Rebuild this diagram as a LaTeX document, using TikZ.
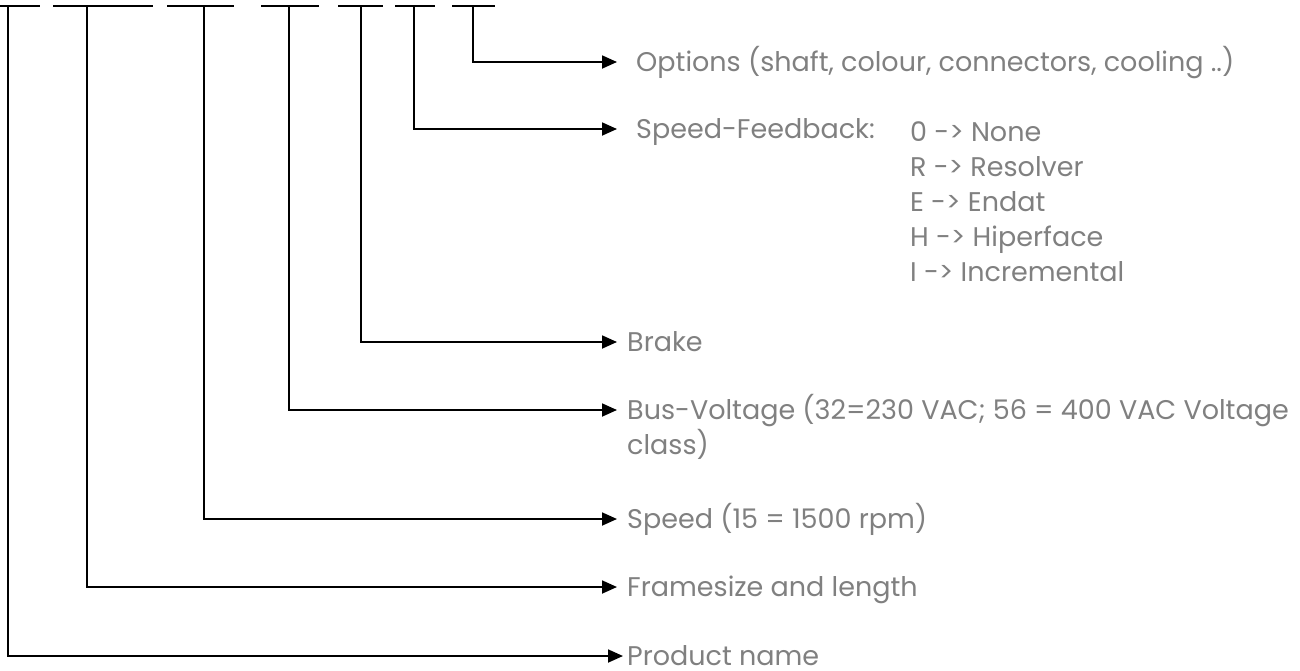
\documentclass[tikz,border=0pt]{standalone}
\usepackage{fontspec}
\setmainfont{Poppins}
\usetikzlibrary{arrows.meta}
\definecolor{txtG}{RGB}{128,128,128}

\begin{document}
\begin{tikzpicture}[x=1pt,y=-1pt,>={Triangle[length=15pt,width=13pt]},
  link/.style={->,line width=1.8pt},
  lbl/.style={anchor=west,inner ysep=0pt,inner xsep=10pt,text height=19pt,text depth=0pt,text=txtG,font=\fontsize{27}{35}\selectfont}]
\useasboundingbox (0,0) rectangle (1300,670);
% fields of the type code
\foreach \a/\b in {0/40,53/153,167/234,261/319,338/383,395/435,452/495}
  \draw[line width=1.8pt] (\a,6)--(\b,6);
\coordinate (fProd) at (8,6); \coordinate (fFrame) at (87,6);
\coordinate (fSpeed) at (204,6); \coordinate (fBus) at (289,6);
\coordinate (fBrake) at (361,6); \coordinate (fFeed) at (414,6);
\coordinate (fOpt) at (473,6);
% labels
\node[lbl,inner xsep=19pt] (opt) at (617,62) {Options (shaft, colour, connectors, cooling ..)};
\node[lbl,inner xsep=19pt] (feed) at (617,129) {Speed-Feedback:};
\node[text=txtG,font=\fontsize{27}{35}\selectfont,align=left,inner sep=0pt,anchor=north west] (feedVal) at (910,121)
  {0 -> None\\R -> Resolver\\E -> Endat\\H -> Hiperface\\I -> Incremental};
\node[lbl] (brake) at (617,342) {Brake};
\node[lbl] (bus) at (617,410) {Bus-Voltage (32=230 VAC; 56 = 400 VAC Voltage};
\node[lbl] (busB) at (617,445) {class)};
\node[lbl] (speed) at (617,519) {Speed (15 = 1500 rpm)};
\node[lbl] (frame) at (617,587) {Framesize and length};
\node[lbl,inner xsep=4pt] (prod) at (623,656) {Product name};
% connectors
\draw[link] (fOpt) |- (opt);
\draw[link] (fFeed) |- (feed);
\draw[link] (fBrake) |- (brake);
\draw[link] (fBus) |- (bus);
\draw[link] (fSpeed) |- (speed);
\draw[link] (fFrame) |- (frame);
\draw[link] (fProd) |- (prod);
\end{tikzpicture}
\end{document}
